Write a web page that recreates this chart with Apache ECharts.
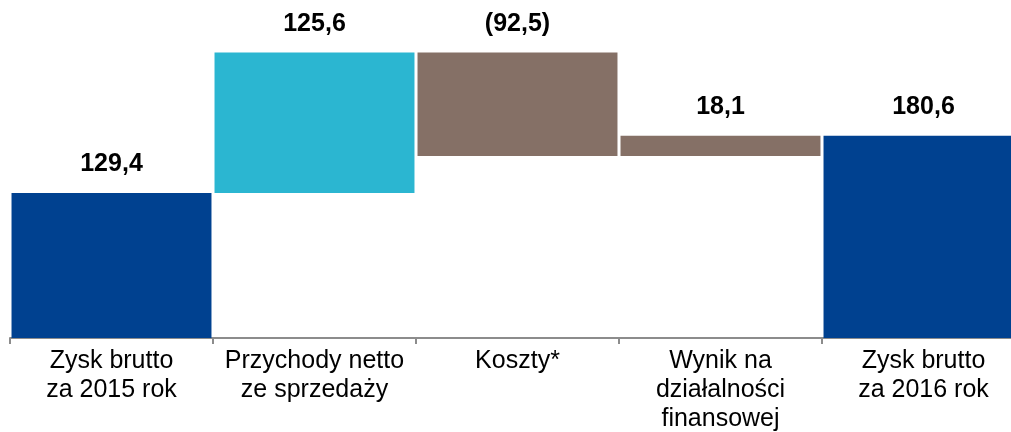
<!DOCTYPE html>
<html>
<head>
<meta charset="utf-8">
<title>Waterfall</title>
<script src="https://cdn.jsdelivr.net/npm/echarts@6/dist/echarts.min.js"></script>
<style>
  * { margin: 0; padding: 0; }
  body { background: #fff; }
  #main { width: 1011px; height: 432px; }
</style>
</head>
<body>
<div id="main"></div>
<script>
// categories and changes (mln PLN)
var categories = ['Zysk brutto\nza 2015 rok', 'Przychody netto\nze sprzedaży', 'Koszty*', 'Wynik na\ndziałalności\nfinansowej', 'Zysk brutto\nza 2016 rok'];
var deltas = [129.4, 125.6, -92.5, 18.1, 180.6];
var isTotal = [true, false, false, false, true];
var barColors = ['#004190', '#2bb6d1', '#857066', '#857066', '#004190'];

// invisible base + visible part of each bar
var base = [], visible = [];
var running = 0;
for (var i = 0; i < deltas.length; i++) {
  if (isTotal[i]) {
    base.push(0);
    visible.push(deltas[i]);
    running = deltas[i];
  } else if (deltas[i] >= 0) {
    base.push(running);
    visible.push(deltas[i]);
    running += deltas[i];
  } else {
    running += deltas[i];
    base.push(running);
    visible.push(-deltas[i]);
  }
}

function fmt(v) {
  var s = Math.abs(v).toFixed(1).replace('.', ',');
  return v < 0 ? '(' + s + ')' : s;
}

var myChart = echarts.init(document.getElementById('main'));
var option = {
  animation: false,
  grid: { left: 10, top: 30, width: 1015, height: 308, outerBoundsMode: 'none', containLabel: false },
  xAxis: {
    type: 'category',
    data: categories,
    axisLine: { lineStyle: { color: '#8c8c8c', width: 2 } },
    axisTick: { show: true, length: 6, lineStyle: { color: '#8c8c8c', width: 2 } },
    axisLabel: {
      color: '#000',
      fontFamily: 'Liberation Sans, Arial, sans-serif',
      fontSize: 25,
      lineHeight: 29,
      margin: 9,
      interval: 0,
      hideOverlap: false
    }
  },
  yAxis: {
    type: 'value',
    min: 0,
    max: 275,
    show: false,
    splitLine: { show: false }
  },
  series: [
    {
      type: 'bar',
      stack: 'w',
      data: base,
      itemStyle: { color: 'transparent' },
      barCategoryGap: '1.5%',
      silent: true
    },
    {
      type: 'bar',
      stack: 'w',
      barCategoryGap: '1.5%',
      data: visible.map(function (v, i) {
        return { value: v, itemStyle: { color: barColors[i] } };
      }),
      label: {
        show: true,
        position: 'top',
        distance: 16,
        color: '#000',
        fontFamily: 'Liberation Sans, Arial, sans-serif',
        fontWeight: 'bold',
        fontSize: 25,
        formatter: function (p) { return fmt(deltas[p.dataIndex]); }
      }
    }
  ]
};
myChart.setOption(option);
</script>
</body>
</html>
